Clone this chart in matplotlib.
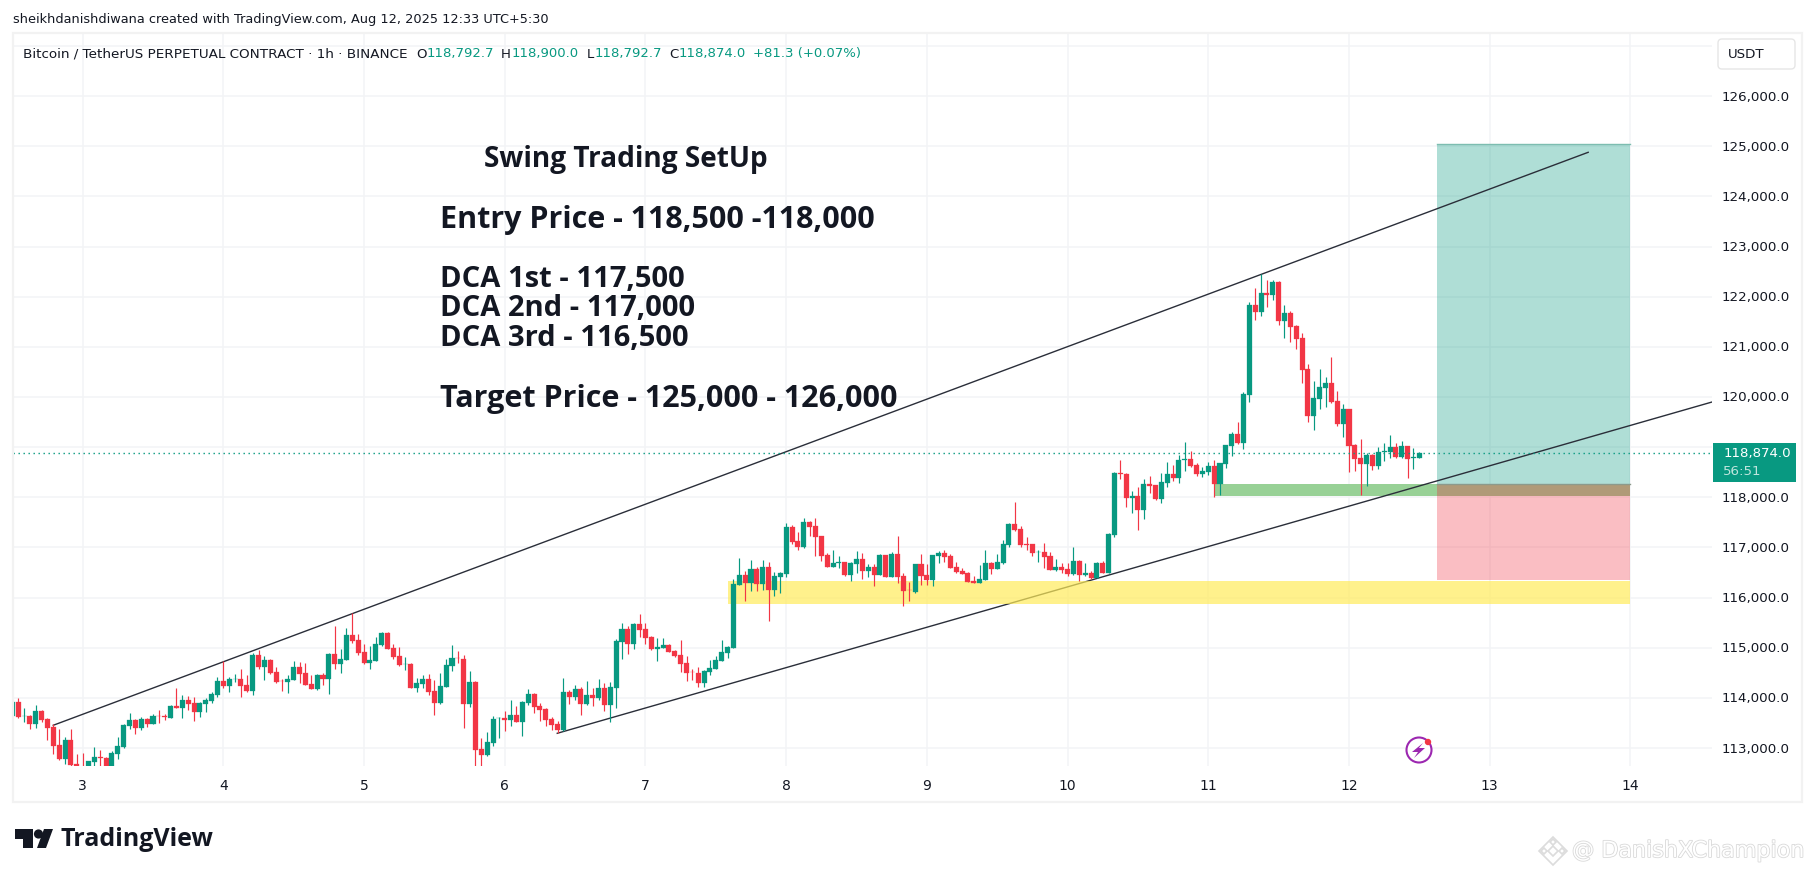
import numpy as np
import matplotlib
matplotlib.use('Agg')
import matplotlib.pyplot as plt
import matplotlib.patheffects as pe
from matplotlib.patches import Rectangle, Polygon, Circle, FancyBboxPatch

# hourly candles, first one is 12h before the "3" tick
opens = [
    113640,113920,113630,113640,113480,113740,113580,113420,113060,112780,
    113160,112680,112620,112580,112720,112820,112800,112580,112880,113020,
    113440,113560,113400,113580,113480,113640,113640,113600,113840,113800,
    113960,113900,113720,113880,113940,114060,114340,114240,114370,114380,
    114260,114140,114860,114620,114760,114520,114340,114320,114360,114620,
    114500,114280,114180,114460,114380,114880,114680,114760,115260,115160,
    114920,114700,114740,115060,115300,115000,114840,114670,114680,114200,
    114280,114380,114140,113900,114220,114640,114800,114780,113880,114320,
    112980,112860,113100,113590,113600,113560,113660,113520,113900,114080,
    113840,113780,113580,113480,113360,114120,114020,114180,113880,114060,
    114000,114200,113860,114200,115120,115380,115080,115480,115380,115220,
    114980,115000,115060,114940,114860,114700,114520,114500,114300,114520,
    114580,114740,114900,115000,116260,116460,116300,116580,116280,116620,
    116160,116420,116480,117400,117120,117000,117500,117420,117220,116840,
    116620,116690,116700,116460,116660,116760,116540,116620,116460,116840,
    116420,116860,116440,116160,116120,116660,116460,116360,116820,116880,
    116820,116620,116540,116500,116340,116300,116360,116680,116580,116680,
    117040,117460,117360,117060,117060,116900,116900,116820,116560,116620,
    116580,116480,116720,116460,116500,116400,116680,116500,117240,118480,
    118460,117980,118020,117740,118260,118240,117960,118280,118460,118380,
    118740,118760,118640,118460,118500,118620,118260,118660,119020,119260,
    119080,120040,121840,121700,122080,122040,122300,121520,121680,121420,
    121180,120560,119620,119960,120180,120280,119920,119460,119760,119040,
    118780,118660,118840,118620,118910,118900,119000,118800,119020,118790,
    118792.7]
highs = [
    113930,114000,113800,113660,113860,113750,113600,113480,113380,113220,
    113380,112880,112900,112750,113020,112960,112820,112940,113220,113480,
    113700,113570,113620,113590,113680,113760,113680,113860,114200,114060,
    114040,114020,113920,114000,114120,114420,114740,114420,114480,114580,
    114460,114900,114960,114840,114770,114620,114380,114460,114740,114720,
    114700,114460,114480,114500,114890,115440,114980,115400,115700,115280,
    115080,115040,115220,115310,115310,115080,115020,114820,114700,114400,
    114460,114480,114360,114500,114780,115060,114940,114860,114540,114340,
    113200,113320,113640,113620,113740,113960,113840,113940,114180,114100,
    113900,113800,113620,113540,114400,114160,114260,114220,114340,114200,
    114380,114300,114320,115180,115500,115440,115490,115680,115500,115240,
    115200,115200,115080,114960,115160,114840,114580,114620,114550,114760,
    114840,115160,115040,116380,116780,116540,116740,116620,116740,116700,
    116520,116520,117480,117440,117300,117580,117520,117580,117230,116880,
    116940,116820,116710,116700,116920,116880,116660,116660,116860,116850,
    116900,117220,116500,116320,116670,116860,116660,116850,116920,116940,
    116860,116700,116600,116510,116440,116640,116940,116700,116860,117140,
    117480,117900,117420,117200,117070,116940,117080,116900,116760,116680,
    116680,117000,116740,116680,116540,116700,116720,117280,118510,118740,
    118480,118120,118200,118360,118420,118250,118480,118700,118640,118840,
    119100,118920,118680,118600,118700,118740,118690,119050,119300,119500,
    120100,121900,122180,122460,122340,122340,122320,121840,121720,121440,
    121280,120660,120320,120560,120400,120800,120120,119860,119770,119060,
    119160,118880,118860,119000,119080,119240,119080,119120,119030,118980,
    118900]
lows = [
    113630,113600,113520,113380,113400,113520,113160,112880,112760,112680,
    112620,112560,112540,112560,112620,112620,112560,112560,112780,113010,
    113380,113280,113360,113420,113470,113500,113560,113590,113790,113600,
    113760,113540,113620,113720,113900,114020,114200,114120,114320,114020,
    114120,114060,114580,114360,114480,114300,114140,114100,114350,114300,
    114250,114170,114160,114260,114080,114580,114500,114750,115100,114860,
    114680,114580,114730,115040,114970,114780,114640,114560,114190,114120,
    114200,114060,113660,113880,114210,114540,114700,113400,113820,112560,
    112560,112850,113040,113200,113340,113440,113510,113240,113860,113700,
    113540,113440,113360,113300,113340,113880,113960,113660,113860,113840,
    113960,113740,113520,113800,114780,114880,114980,115220,115080,114960,
    114740,114990,114910,114820,114520,114340,114360,114220,114220,114460,
    114570,114730,114800,114990,116250,115940,116140,116140,116160,115540,
    116040,116100,116420,117060,116940,116990,117220,116820,116720,116610,
    116610,116600,116440,116340,116500,116380,116420,116240,116450,116410,
    116410,116300,115840,115940,116100,116260,116260,116240,116680,116700,
    116590,116500,116470,116310,116290,116290,116350,116480,116570,116670,
    117000,117320,117000,116940,116820,116700,116600,116550,116540,116500,
    116440,116460,116340,116440,116380,116390,116490,116490,117200,118360,
    117800,117680,117340,117560,118080,117950,117880,118200,118320,118280,
    118520,118600,118420,118400,118440,118000,118040,118580,118820,119060,
    118960,119900,121540,121620,121800,121940,121440,121180,121100,120960,
    120280,119500,119340,119760,119800,119880,119420,119200,118500,118520,
    118040,118220,118540,118560,118720,118780,118780,118780,118380,118560,
    118792.7]
closes = [
    113920,113610,113640,113480,113740,113560,113400,113040,112780,113160,
    112660,112600,112580,112740,112820,112810,112580,112900,113040,113460,
    113560,113400,113580,113480,113640,113630,113610,113840,113800,113960,
    113880,113720,113900,113960,114080,114340,114230,114380,114380,114240,
    114140,114860,114620,114760,114500,114320,114330,114380,114620,114480,
    114260,114180,114460,114380,114880,114680,114780,115260,115140,114900,
    114700,114760,115080,115300,114980,114820,114660,114680,114200,114300,
    114380,114120,113900,114240,114660,114800,114790,113880,114320,112960,
    112860,113120,113580,113600,113560,113660,113520,113920,114080,113820,
    113760,113560,113460,113360,114120,114020,114180,113880,114060,114000,
    114200,113860,114220,115140,115380,115080,115480,115360,115200,114980,
    115020,115060,114920,114840,114680,114500,114510,114300,114540,114600,
    114760,114920,115020,116280,116460,116300,116580,116280,116620,116160,
    116440,116500,117400,117100,117000,117500,117400,117200,116820,116620,
    116680,116700,116460,116680,116760,116540,116620,116460,116840,116420,
    116860,116420,116140,116150,116660,116440,116360,116840,116880,116800,
    116600,116520,116480,116320,116300,116380,116680,116580,116700,117060,
    117460,117340,117040,117050,116880,116910,116800,116560,116620,116560,
    116480,116720,116460,116500,116400,116680,116500,117260,118490,118460,
    117980,118020,117740,118260,118220,117960,118300,118460,118380,118740,
    118760,118620,118460,118520,118620,118260,118680,119040,119260,119080,
    120060,121840,121700,122080,122040,122300,121520,121680,121400,121160,
    120540,119620,119980,120200,120280,119900,119460,119760,119020,118760,
    118660,118840,118620,118900,118920,119000,118800,119020,118760,118800,
    118874.0]

day_ticks = [3, 4, 5, 6, 7, 8, 9, 10, 11, 12, 13, 14]
price_ticks = [113000, 114000, 115000, 116000, 117000, 118000, 119000,
               120000, 121000, 122000, 123000, 124000, 125000, 126000, 127000]
price_labels = [113000, 114000, 115000, 116000, 117000, 118000, 119000,
                120000, 121000, 122000, 123000, 124000, 125000, 126000]

# drawings: trend lines (day, price)
upper_days = [2.791, 13.70]
upper_prices = [113454, 124879]
lower_days = [6.373, 14.58]
lower_prices = [113294, 119900]

last_price = 118874.0
note_lines = ['Swing Trading SetUp', 'Entry Price - 118,500 -118,000', 'DCA 1st - 117,500',
              'DCA 2nd - 117,000', 'DCA 3rd - 116,500', 'Target Price - 125,000 - 126,000']

GREEN = '#089981'
RED = '#F23645'
INK = '#131722'
GRID = '#f3f4f6'

plt.rcParams['font.family'] = ['DejaVu Sans']

W, H = 1815, 878
fig = plt.figure(figsize=(W / 100, H / 100), dpi=100, facecolor='white')

# main chart pane
ax = fig.add_axes([13 / W, (H - 767) / H, (1712 - 13) / W, (767 - 34) / H])
ax.set_xlim(2.505, 14.58)
ax.set_ylim(112642, 127258)
for s in ax.spines.values():
    s.set_visible(False)
ax.tick_params(left=False, bottom=False, labelleft=False, labelbottom=False)
ax.set_xticks(day_ticks)
ax.set_yticks(price_ticks)
ax.grid(True, color=GRID, lw=1.1, zorder=0)
ax.set_axisbelow(True)

# position tool
ax.add_patch(Rectangle((12.625, 118265), 1.375, 125040 - 118265, fc=GREEN, alpha=0.32, lw=0, zorder=2))
ax.add_patch(Rectangle((12.625, 116354), 1.375, 118265 - 116354, fc=RED, alpha=0.32, lw=0, zorder=2))
ax.plot([12.625, 14], [125040, 125040], color='#7dbdb0', lw=1, zorder=2.1)
ax.plot([12.625, 14], [118265, 118265], color='#8c9a8c', lw=1, zorder=2.6)

# green zone sits under the trend lines, the yellow one over them
ax.add_patch(Rectangle((11.05, 118025), 12.625 - 11.05, 118265 - 118025, fc='#98d196', lw=0, zorder=2.5))
ax.add_patch(Rectangle((12.625, 118025), 14 - 12.625, 118265 - 118025, fc='#b09a78', lw=0, zorder=2.5))

ax.plot(upper_days, upper_prices, color='#2a2e39', lw=1.0, zorder=3)
ax.plot(lower_days, lower_prices, color='#2a2e39', lw=1.0, zorder=3)

ax.add_patch(Rectangle((7.59, 115872), 14 - 7.59, 116331 - 115872, fc='#ffec5b', alpha=0.7, lw=0, zorder=3.5))

# candles
hours = np.arange(-12, len(opens) - 12)
days = 3 + hours / 24
o = np.array(opens)
c = np.array(closes)
cols = [GREEN if a >= b else RED for a, b in zip(c, o)]
ax.vlines(days, lows, highs, colors=cols, lw=0.85, zorder=4)
ax.bar(days, np.abs(c - o), bottom=np.minimum(o, c), width=0.86 / 24, color=cols,
       edgecolor=cols, linewidth=0.2, zorder=4.1)

# last price line
ax.axhline(last_price, color=GREEN, lw=1.0, linestyle=(0, (1, 2.6)), zorder=5)

# overlay in pixel coords for the screenshot furniture
ov = fig.add_axes([0, 0, 1, 1], facecolor='none')
ov.set_xlim(0, W)
ov.set_ylim(H, 0)
ov.axis('off')


def px_x(d):
    return 82.7 + (d - 3) * 140.7


def px_y(p):
    return 498.3 - (p - 118000) * 0.05015


ov.add_patch(Rectangle((12.7, 33.5), 1802 - 12.7, 803 - 33.5, fc='none', ec='#f2f2f2', lw=1.6))

ov.text(13, 20, 'sheikhdanishdiwana created with TradingView.com, Aug 12, 2025 12:33 UTC+5:30',
        fontsize=9.3, color=INK, va='center', ha='left')

# legend row
ov.text(23, 54, 'Bitcoin / TetherUS PERPETUAL CONTRACT · 1h · BINANCE', fontsize=9.7, color=INK, va='center')
for lab, lx, val, vx in [('O', 416, '118,792.7', 427), ('H', 501, '118,900.0', 512),
                         ('L', 587, '118,792.7', 595), ('C', 669, '118,874.0', 679)]:
    ov.text(lx, 54, lab, fontsize=9.5, color=INK, va='center')
    ov.text(vx, 54, val, fontsize=9.5, color=GREEN, va='center')
ov.text(753, 54, '+81.3 (+0.07%)', fontsize=9.5, color=GREEN, va='center')

# the note written on the chart
note_pos = [(484, 160), (440, 220), (440, 280), (440, 309), (440, 339), (440, 399)]
note_sizes = [20.2, 22, 21, 21, 21, 22]
for line, (tx, ty), fs in zip(note_lines, note_pos, note_sizes):
    ov.text(tx, ty, line, family='Open Sans', fontsize=fs, fontweight='bold', color=INK, va='center', ha='left')

# day labels
for d in day_ticks:
    ov.text(px_x(d), 786, str(d), fontsize=10, color=INK, va='center', ha='center')

# price axis
for p in price_labels:
    ov.text(1756, px_y(p), f'{p:,.1f}', fontsize=9.6, color=INK, va='center', ha='center', zorder=3)

ov.add_patch(FancyBboxPatch((1718, 40), 77, 30, boxstyle='round,pad=0,rounding_size=4',
                            fc='white', ec='#e6e6e6', lw=1))
ov.text(1728, 55, 'USDT', fontsize=9.6, color=INK, va='center')

ov.add_patch(Rectangle((1713, 444), 83, 39, fc=GREEN, lw=0, zorder=3.5))
ov.text(1757, 453.5, '118,874.0', fontsize=9.6, color='white', va='center', ha='center', zorder=4)
ov.text(1723, 472, '56:51', fontsize=9.6, color='#bfe5dd', va='center', ha='left', zorder=4)

# lightning badge
ov.add_patch(Circle((1419, 751), 12.5, fc='white', ec='#9c27b0', lw=1.5))
ov.add_patch(Polygon([(1423, 744), (1412, 753), (1418, 753), (1414, 759), (1425, 749), (1419, 749)],
                     closed=True, fc='#9c27b0', lw=0))
ov.add_patch(Circle((1428, 743), 3.2, fc=RED, lw=0, zorder=3))

# TradingView logo
ov.add_patch(Polygon([(15, 830), (33, 830), (33, 849), (23, 849), (23, 840), (15, 840)],
                     closed=True, fc=INK, lw=0))
ov.add_patch(Circle((38.5, 835), 4.6, fc=INK, lw=0))
ov.add_patch(Polygon([(44, 830), (53, 830), (46, 849), (37, 849)], closed=True, fc=INK, lw=0))
ov.text(61, 840, 'TradingView', family='Open Sans', fontsize=18, fontweight='bold', color=INK, va='center', ha='left')

# watermark
wm = [pe.withStroke(linewidth=1.2, foreground='#d9d9d9')]
ov.text(1572, 852, '@ DanishXChampion', fontsize=16, color='white', va='center', ha='left', path_effects=wm)
for dx, dy, r in [(0, 0, 14), (0, 0, 5), (-9, 0, 3), (9, 0, 3), (0, -9, 3)]:
    cx, cy = 1553 + dx, 852 + dy
    ov.add_patch(Polygon([(cx - r, cy), (cx, cy - r), (cx + r, cy), (cx, cy + r)], closed=True,
                         fc='white', ec='#dcdcdc', lw=1.2))

fig.savefig('out.png', dpi=100, facecolor='white')
